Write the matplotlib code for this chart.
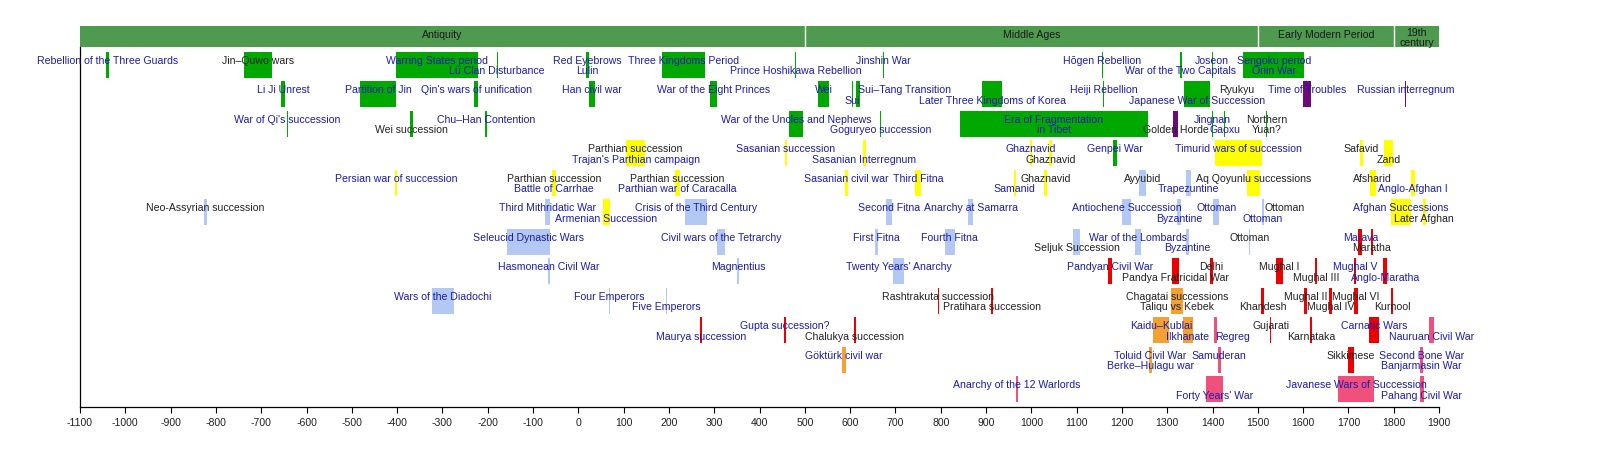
import matplotlib
matplotlib.use('Agg')
import matplotlib.pyplot as plt
from matplotlib.patches import Rectangle

plt.rcParams['font.family'] = ['Liberation Sans', 'DejaVu Sans']

# eras along the top
eras = ["Antiquity", "Middle Ages", "Early Modern Period", "19th\ncentury"]
era_starts = [-1100, 500, 1500, 1800]
era_ends = [500, 1500, 1800, 1900]

ticks = list(range(-1100, 2000, 100))

# (label, start, end, lane, text line 0=upper 1=lower, linked)
east_asia = [
    ("Rebellion of the Three Guards", -1042, -1036, 0, 0, True),
    ("Jin–Quwo wars", -739, -677, 0, 0, False),
    ("Warring States period", -403, -221, 0, 0, True),
    ("Lü Clan Disturbance", -180, -179, 0, 1, True),
    ("Red Eyebrows", 17, 24, 0, 0, True),
    ("Lulin", 17, 24, 0, 1, True),
    ("Three Kingdoms Period", 184, 280, 0, 0, True),
    ("Prince Hoshikawa Rebellion", 479, 480, 0, 1, True),
    ("Jinshin War", 672, 673, 0, 0, True),
    ("Hōgen Rebellion", 1156, 1157, 0, 0, True),
    ("War of the Two Capitals", 1328, 1332, 0, 1, True),
    ("Joseon", 1398, 1400, 0, 0, True),
    ("Sengoku period", 1467, 1603, 0, 0, True),
    ("Ōnin War", 1467, 1603, 0, 1, True),
    ("Li Ji Unrest", -657, -647, 1, 0, True),
    ("Partition of Jin", -481, -403, 1, 0, True),
    ("Qin's wars of unification", -230, -221, 1, 0, True),
    ("Han civil war", 23, 37, 1, 0, True),
    ("War of the Eight Princes", 291, 306, 1, 0, True),
    ("Wei", 530, 553, 1, 0, True),
    ("Sui", 604, 605, 1, 1, True),
    ("Sui–Tang Transition", 613, 622, 1, 0, True),
    ("Later Three Kingdoms of Korea", 892, 936, 1, 1, True),
    ("Heiji Rebellion", 1159, 1160, 1, 0, True),
    ("Japanese War of Succession", 1336, 1394, 1, 1, True),
    ("Ryukyu", 1453, 1454, 1, 0, False),
    ("War of Qi's succession", -643, -641, 2, 0, True),
    ("Wei succession", -371, -366, 2, 1, False),
    ("Chu–Han Contention", -206, -202, 2, 0, True),
    ("War of the Uncles and Nephews", 465, 497, 2, 0, True),
    ("Goguryeo succession", 666, 668, 2, 1, True),
    ("Era of Fragmentation", 842, 1257, 2, 0, True),
    ("in Tibet", 842, 1257, 2, 1, True),
    ("Jingnan", 1399, 1402, 2, 0, True),
    ("Gaoxu", 1426, 1427, 2, 1, True),
    ("Northern", 1519, 1520, 2, 0, False),
    ("Yuan?", 1519, 1520, 2, 1, False),
    ("Genpei War", 1180, 1189, 3, 0, True),
]

russia_horde = [
    ("Time of Troubles", 1600, 1617, 1, 0, True),
    ("Russian interregnum", 1825, 1827, 1, 0, True),
    ("Golden Horde", 1313, 1323, 2, 1, False),
]

persia = [
    ("Parthian succession", 105, 148, 3, 0, False),
    ("Trajan's Parthian campaign", 105, 148, 3, 1, True),
    ("Sasanian succession", 456, 461, 3, 0, True),
    ("Sasanian Interregnum", 628, 634, 3, 1, True),
    ("Ghaznavid", 997, 1002, 3, 0, True),
    ("Ghaznavid", 1040, 1045, 3, 1, False),
    ("Timurid wars of succession", 1405, 1510, 3, 0, True),
    ("Safavid", 1725, 1732, 3, 0, False),
    ("Zand", 1779, 1798, 3, 1, False),
    ("Persian war of succession", -404, -400, 4, 0, True),
    ("Parthian succession", -58, -50, 4, 0, False),
    ("Battle of Carrhae", -58, -50, 4, 1, True),
    ("Parthian succession", 213, 224, 4, 0, False),
    ("Parthian war of Caracalla", 213, 224, 4, 1, True),
    ("Sasanian civil war", 588, 595, 4, 0, True),
    ("Third Fitna", 744, 756, 4, 0, True),
    ("Samanid", 961, 966, 4, 1, True),
    ("Ghaznavid", 1029, 1034, 4, 0, False),
    ("Aq Qoyunlu successions", 1476, 1505, 4, 0, False),
    ("Afsharid", 1747, 1760, 4, 0, False),
    ("Anglo-Afghan I", 1839, 1847, 4, 1, True),
    ("Armenian Succession", 54, 69, 5, 1, True),
    ("Afghan Successions", 1793, 1839, 5, 0, True),
    ("Later Afghan", 1864, 1871, 5, 1, False),
]

west = [
    ("Ayyubid", 1238, 1253, 4, 0, False),
    ("Trapezuntine", 1341, 1352, 4, 1, True),
    ("Neo-Assyrian succession", -826, -820, 5, 0, False),
    ("Third Mithridatic War", -73, -63, 5, 0, True),
    ("Crisis of the Third Century", 235, 284, 5, 0, True),
    ("Second Fitna", 680, 693, 5, 0, True),
    ("Anarchy at Samarra", 861, 872, 5, 0, True),
    ("Antiochene Succession", 1201, 1221, 5, 0, True),
    ("Byzantine", 1321, 1330, 5, 1, True),
    ("Ottoman", 1402, 1414, 5, 0, True),
    ("Ottoman", 1509, 1514, 5, 1, True),
    ("Ottoman", 1559, 1561, 5, 0, False),
    ("Seleucid Dynastic Wars", -157, -63, 6, 0, True),
    ("Civil wars of the Tetrarchy", 306, 324, 6, 0, True),
    ("First Fitna", 656, 662, 6, 0, True),
    ("Fourth Fitna", 809, 831, 6, 0, True),
    ("Seljuk Succession", 1093, 1107, 6, 1, False),
    ("War of the Lombards", 1228, 1243, 6, 0, True),
    ("Byzantine", 1341, 1347, 6, 1, True),
    ("Ottoman", 1481, 1483, 6, 0, False),
    ("Hasmonean Civil War", -67, -63, 7, 0, True),
    ("Magnentius", 350, 355, 7, 0, True),
    ("Twenty Years' Anarchy", 695, 720, 7, 0, True),
    ("Wars of the Diadochi", -322, -275, 8, 0, True),
    ("Four Emperors", 68, 70, 8, 0, True),
    ("Five Emperors", 193, 196, 8, 1, True),
]

india = [
    ("Marava", 1722, 1731, 6, 0, True),
    ("Maratha", 1749, 1755, 6, 1, False),
    ("Pandyan Civil War", 1169, 1178, 7, 0, True),
    ("Pandya Fratricidal War", 1310, 1325, 7, 1, False),
    ("Delhi", 1394, 1400, 7, 0, False),
    ("Mughal I", 1540, 1555, 7, 0, False),
    ("Mughal III", 1627, 1631, 7, 1, False),
    ("Mughal V", 1712, 1717, 7, 0, True),
    ("Anglo-Maratha", 1777, 1785, 7, 1, True),
    ("Rashtrakuta succession", 794, 796, 8, 0, False),
    ("Pratihara succession", 910, 916, 8, 1, False),
    ("Khandesh", 1508, 1513, 8, 1, False),
    ("Mughal II", 1603, 1609, 8, 0, False),
    ("Mughal IV", 1657, 1664, 8, 1, False),
    ("Mughal VI", 1713, 1721, 8, 0, False),
    ("Kurnool", 1794, 1798, 8, 1, False),
    ("Maurya succession", 268, 273, 9, 1, True),
    ("Gupta succession?", 455, 458, 9, 0, True),
    ("Chalukya succession", 609, 612, 9, 1, False),
    ("Gujarati", 1526, 1530, 9, 0, False),
    ("Karnataka", 1615, 1620, 9, 1, False),
    ("Carnatic Wars", 1746, 1767, 9, 0, True),
    ("Sikkimese", 1700, 1712, 10, 0, False),
]

central_asia = [
    ("Chagatai successions", 1308, 1334, 8, 0, False),
    ("Taliqu vs Kebek", 1308, 1334, 8, 1, False),
    ("Kaidu–Kublai", 1268, 1304, 9, 0, True),
    ("Ilkhanate", 1335, 1356, 9, 1, True),
    ("Göktürk civil war", 582, 590, 10, 0, True),
    ("Toluid Civil War", 1260, 1266, 10, 0, True),
    ("Berke–Hulagu war", 1260, 1266, 10, 1, True),
]

southeast_asia = [
    ("Regreg", 1404, 1410, 9, 1, True),
    ("Nauruan Civil War", 1878, 1889, 9, 1, True),
    ("Samuderan", 1412, 1418, 10, 0, True),
    ("Second Bone War", 1857, 1865, 10, 0, True),
    ("Banjarmasin War", 1857, 1865, 10, 1, True),
    ("Anarchy of the 12 Warlords", 966, 970, 11, 0, True),
    ("Forty Years' War", 1385, 1424, 11, 1, True),
    ("Javanese Wars of Succession", 1677, 1757, 11, 0, True),
    ("Pahang Civil War", 1857, 1866, 11, 1, True),
]

groups = [
    (east_asia, '#00a800'),
    (russia_horde, '#6b0a78'),
    (persia, '#ffff00'),
    (west, '#b4c8f4'),
    (india, '#ee0000'),
    (central_asia, '#f5a033'),
    (southeast_asia, '#f0507c'),
]

# labels that are not centred on their bar
label_x = {"Sui–Tang Transition": 721, "Regreg": 1443}

link_color = '#1c1cb0'
text_color = '#222222'
fs = 7.6

fig = plt.figure(figsize=(16, 4.5), dpi=100)
ax = fig.add_axes([0.05, 0.0956, 0.8494, 0.8])
ax.set_xlim(-1100, 1900)
ax.set_ylim(12.034, -0.1695)

for s in ['top', 'right']:
    ax.spines[s].set_visible(False)
for s in ['left', 'bottom']:
    ax.spines[s].set_linewidth(0.9)
    ax.spines[s].set_color('black')

ax.set_xticks(ticks)
ax.set_xticklabels([str(t) for t in ticks])
ax.set_yticks([])
ax.tick_params(axis='x', direction='out', length=4, width=0.8,
               labelsize=7.6, pad=4, colors='black', labelcolor='#222222')

# bars
for events, col in groups:
    for label, start, end, lane, line, linked in events:
        w = max(end - start, 2.0)
        ax.add_patch(Rectangle((start, lane), w, 0.88, facecolor=col,
                               edgecolor='none', linewidth=0, zorder=2))

# labels
for events, col in groups:
    for label, start, end, lane, line, linked in events:
        cx = label_x.get(label, (start + max(end, start + 2.0)) / 2)
        cy = lane + (0.29 if line == 0 else 0.65)
        ax.text(cx, cy, label, ha='center', va='center', fontsize=fs,
                color=link_color if linked else text_color,
                zorder=3, clip_on=False)

# era bar
era_green = '#4e9a4e'
era_top, era_bottom = -0.88, -0.1695
for name, s, e in zip(eras, era_starts, era_ends):
    ax.add_patch(Rectangle((s, era_top), e - s, era_bottom - era_top,
                           facecolor=era_green, edgecolor='none',
                           clip_on=False, zorder=2))
    ty = -0.47 if '\n' in name else -0.58
    ax.text((s + e) / 2, ty, name, ha='center', va='center', fontsize=fs,
            color='#1a1a1a', linespacing=0.95, zorder=3, clip_on=False)
for b in era_starts[1:]:
    ax.plot([b, b], [era_top, era_bottom], color='white', lw=1.0,
            clip_on=False, zorder=3)

fig.savefig('out.png', dpi=100)
